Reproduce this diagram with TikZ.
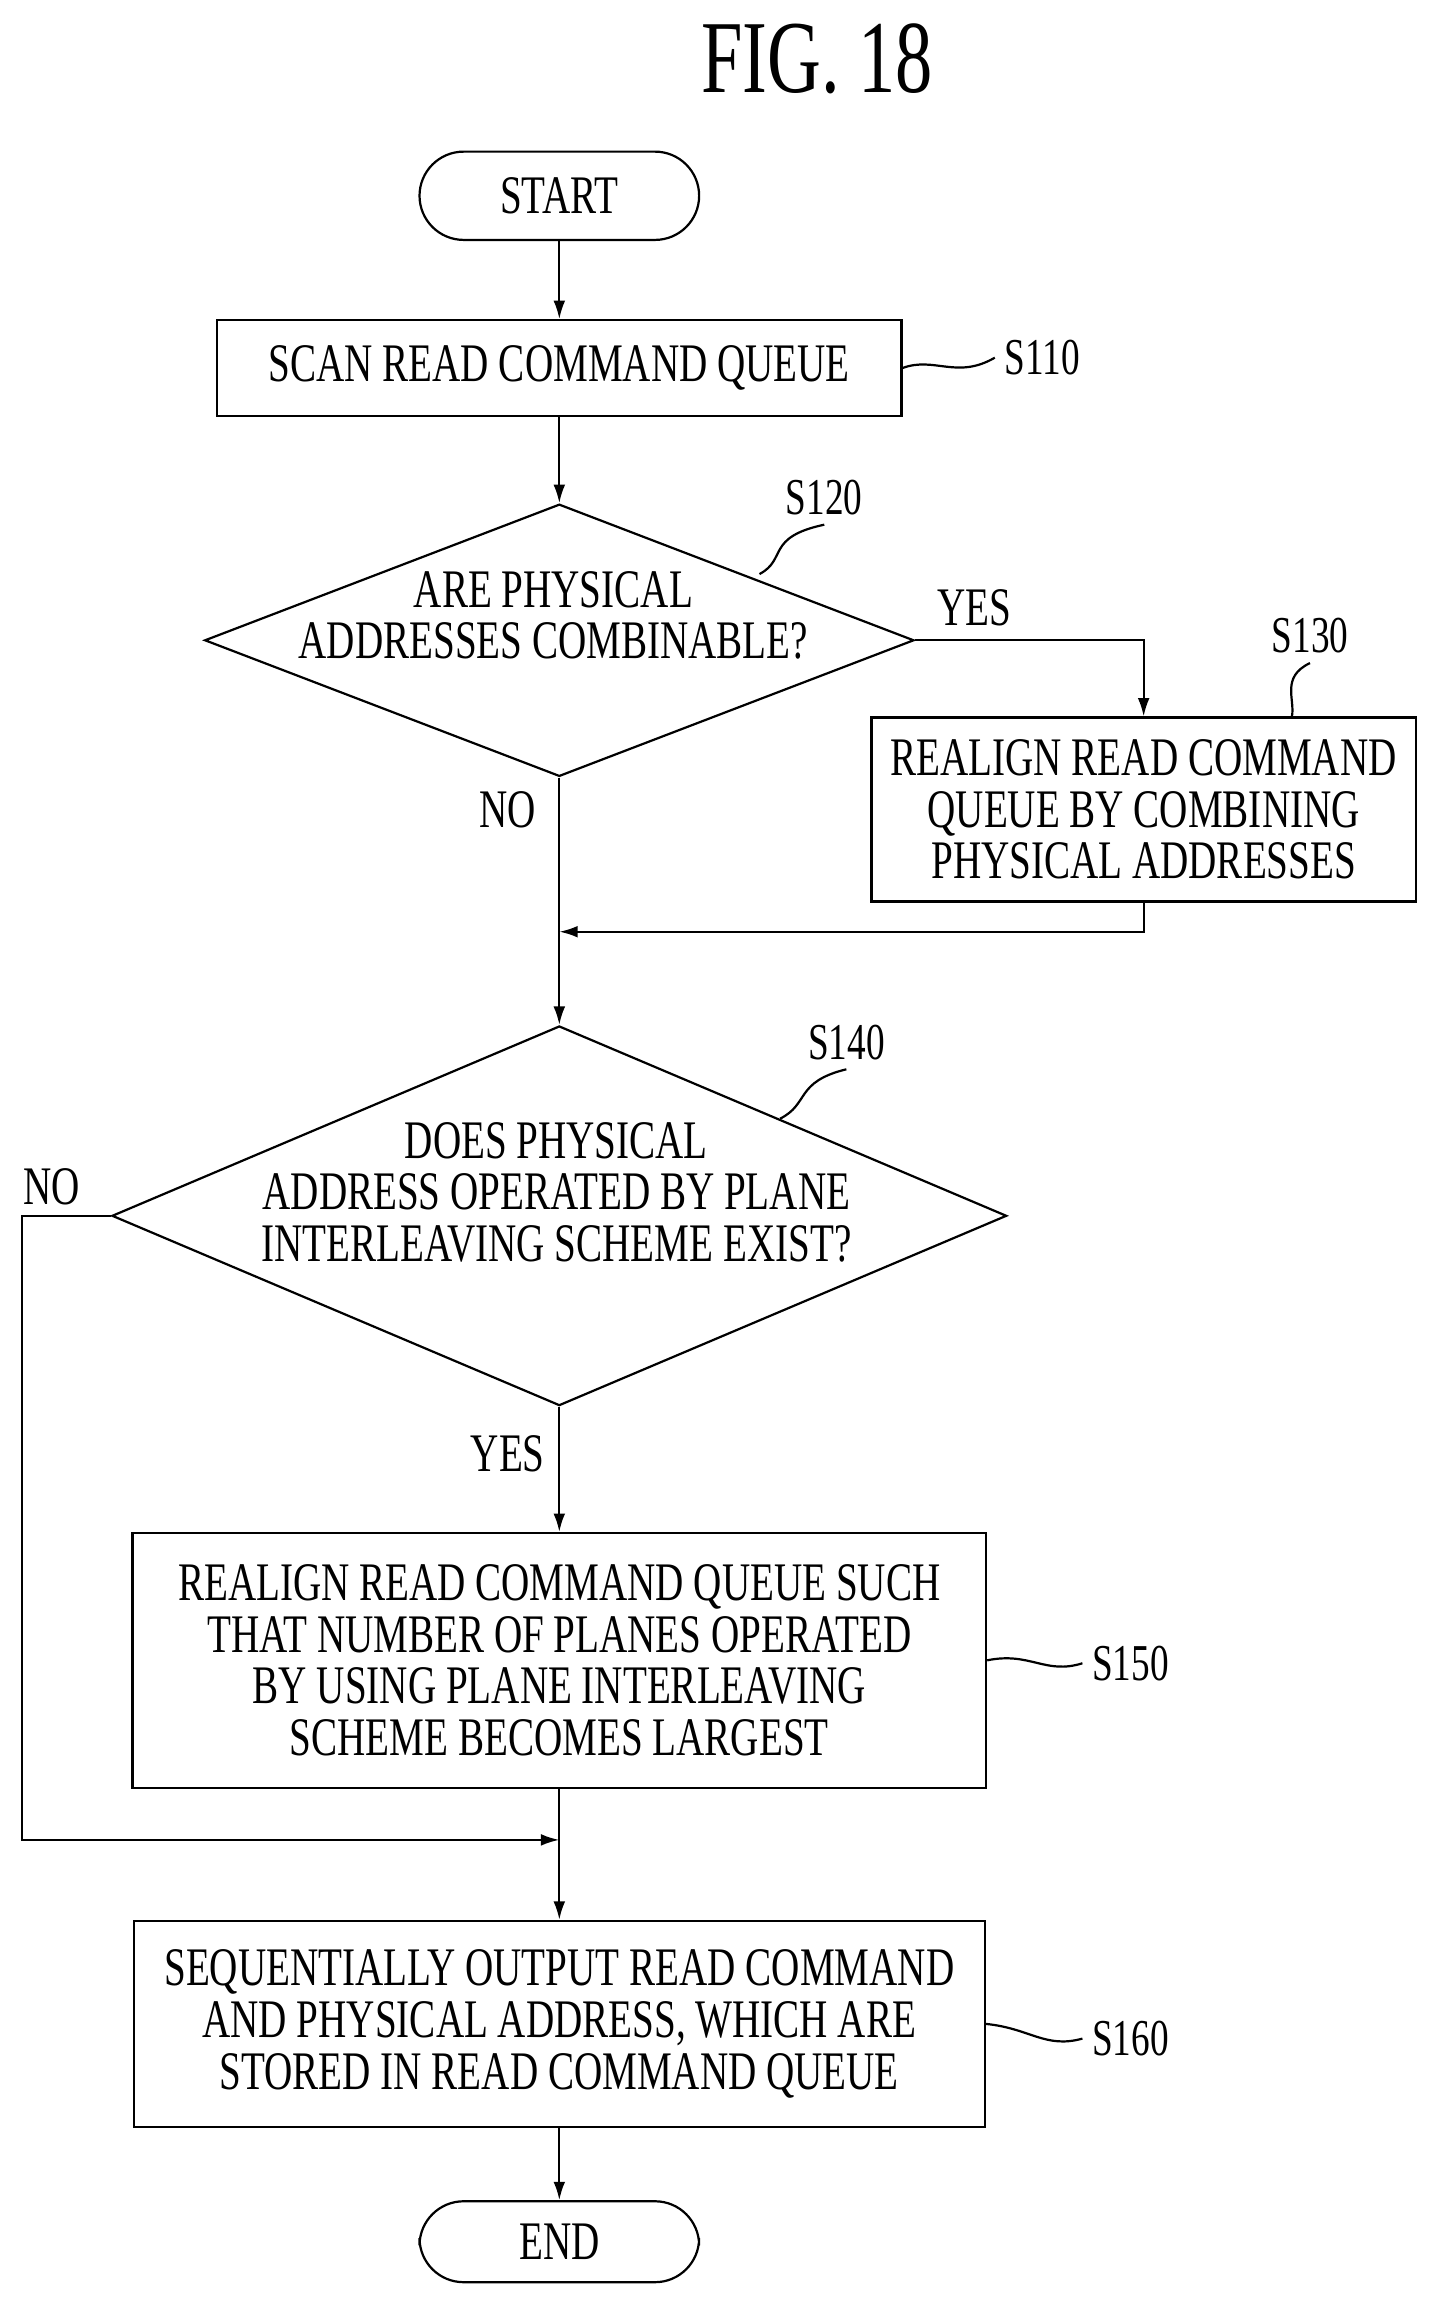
\documentclass[tikz,border=0pt]{standalone}
\usepackage{fontspec}
\setmainfont{Liberation Serif}[FakeStretch=0.72]
\usetikzlibrary{arrows.meta}
\usetikzlibrary{positioning}
\usetikzlibrary{shapes.geometric}
\begin{document}
\begin{tikzpicture}[
		x=0.02cm, y=-0.02cm,
		line width=0.3mm,
		font=\fontsize{21}{23}\selectfont,
		box/.style={draw, align=center, inner sep=0pt},
		term/.style={draw, rounded corners=0.6cm, minimum width=3.8cm, minimum height=1.2cm},
		decide/.style={draw, diamond, aspect=2.6, inner sep=0pt, align=center},
		arrow/.style={-{Latex[length=2.5mm,width=1.6mm]}},
		steplabel/.style={font=\fontsize{20}{22}\selectfont},
	]
	\useasboundingbox (0,0) rectangle (975,1566);
	\node (title) at (555,40) {\fontsize{40}{42}\selectfont FIG. 18};
	\node (start) [term] at (380,133) {START};
	\node (s110) [box, minimum width=9.3cm, minimum height=1.3cm] at (380,250) {SCAN READ COMMAND QUEUE};
	\node (s120) [decide, minimum width=9.64cm, minimum height=3.7cm] at (380,435) {};
	\node [align=center] at (376,418) {ARE PHYSICAL\\[-3pt]ADDRESSES COMBINABLE?};
	\node (s130) [box, minimum width=7.4cm, minimum height=2.5cm] at (777,550) {REALIGN READ COMMAND\\[-3pt]QUEUE BY COMBINING\\[-3pt]PHYSICAL ADDRESSES};
	\coordinate (join1) at (380,633);
	\node (s140) [decide, minimum width=12.16cm, minimum height=5.16cm] at (380,826) {};
	\node [align=center] at (378,810) {DOES PHYSICAL\\[-3pt]ADDRESS OPERATED BY PLANE\\[-3pt]INTERLEAVING SCHEME EXIST?};
	\node (s150) [box, minimum width=11.6cm, minimum height=3.46cm] at (380,1128) {REALIGN READ COMMAND QUEUE SUCH\\[-3pt]THAT NUMBER OF PLANES OPERATED\\[-3pt]BY USING PLANE INTERLEAVING\\[-3pt]SCHEME BECOMES LARGEST};
	\coordinate (join2) at (380,1250);
	\node (s160) [box, minimum width=11.56cm, minimum height=2.8cm] at (380,1375) {SEQUENTIALLY OUTPUT READ COMMAND\\[-3pt]AND PHYSICAL ADDRESS, WHICH ARE\\[-3pt]STORED IN READ COMMAND QUEUE};
	\node (end) [term, minimum height=1.1cm] at (380,1523) {END};

	% step labels
	\node (l110) [steplabel] at (708,243) {S110};
	\node (l120) [steplabel] at (560,338) {S120};
	\node (l130) [steplabel] at (890,432) {S130};
	\node (l140) [steplabel] at (575,708) {S140};
	\node (l150) [steplabel] at (768,1130) {S150};
	\node (l160) [steplabel] at (768,1385) {S160};
	\draw (s110.east) .. controls (635,242) and (650,258) .. (l110.west);
	\draw (516,390) .. controls (535,380) and (520,365) .. (l120.south);
	\draw (s130.north east) ++(-85,0) .. controls (880,475) and (870,460) .. (l130.south);
	\draw (530,760) .. controls (550,750) and (540,735) .. (l140.south);
	\draw (s150.east) .. controls (700,1122) and (710,1138) .. (l150.west);
	\draw (s160.east) .. controls (700,1378) and (710,1392) .. (l160.west);

	% branch labels
	\node (yes1) at (662,413) {YES};
	\node (no1) at (345,550) {NO};
	\node (no2) at (35,806) {NO};
	\node (yes2) at (345,988) {YES};

	% flow
	\draw[arrow] (start) -- (s110);
	\draw[arrow] (s110) -- (s120.north);
	\draw[arrow] (s120.east) -| (s130.north);
	\draw (s120.south) -- (join1);
	\draw[arrow] (s130.south) |- (join1);
	\draw[arrow] (join1) -- (s140.north);
	\draw[arrow] (s140.south) -- (s150.north);
	\draw (s150.south) -- (join2);
	\draw[arrow] (s140.west) -- (15,826) |- (join2);
	\draw[arrow] (join2) -- (s160.north);
	\draw[arrow] (s160.south) -- (end.north);
\end{tikzpicture}
\end{document}
